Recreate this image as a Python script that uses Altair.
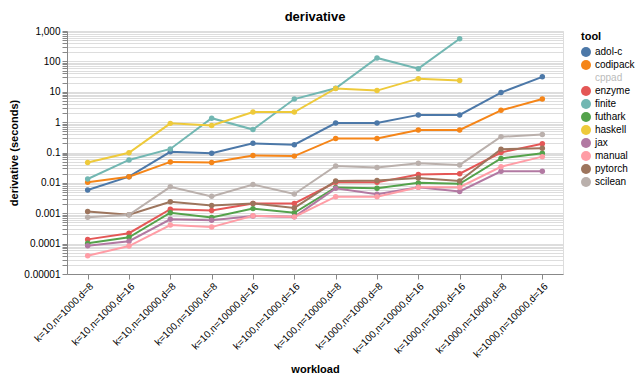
import altair as alt
import pandas as pd

workloads = [
    "k=10,n=1000,d=8", "k=10,n=1000,d=16", "k=10,n=10000,d=8", "k=100,n=1000,d=8",
    "k=10,n=10000,d=16", "k=100,n=1000,d=16", "k=100,n=10000,d=8", "k=1000,n=1000,d=8",
    "k=100,n=10000,d=16", "k=1000,n=1000,d=16", "k=1000,n=10000,d=8", "k=1000,n=10000,d=16",
]

tools = ["adol-c", "codipack", "cppad", "enzyme", "finite", "futhark",
         "haskell", "jax", "manual", "pytorch", "scilean"]
colors = ["#4c78a8", "#f58518", "transparent", "#e45756", "#72b7b2", "#54a24b",
          "#eeca3b", "#b279a2", "#ff9da6", "#9d755d", "#bab0ac"]

adol_c = [0.0058, 0.016, 0.105, 0.095, 0.2, 0.18, 0.93, 0.93, 1.73, 1.73, 9.4, 31]
codipack = [0.0104, 0.016, 0.049, 0.047, 0.08, 0.076, 0.29, 0.29, 0.55, 0.55, 2.44, 5.75]
cppad = []
enzyme = [0.000138, 0.00022, 0.00136, 0.00123, 0.0021, 0.0021, 0.0104, 0.0104, 0.019, 0.020, 0.1, 0.195]
finite = [0.0134, 0.057, 0.131, 1.35, 0.57, 5.75, 13, 130, 57.5, 555]
futhark = [0.000103, 0.000162, 0.00104, 0.00072, 0.00142, 0.00104, 0.0071, 0.0066, 0.01, 0.0093, 0.064, 0.095]
haskell = [0.047, 0.098, 0.91, 0.77, 2.15, 2.15, 12.9, 10.9, 27, 23.4]
jax = [0.000085, 0.00012, 0.00063, 0.00059, 0.00081, 0.00076, 0.0066, 0.0042, 0.0072, 0.0052, 0.024, 0.024]
manual = [0.00004, 0.000083, 0.00041, 0.00035, 0.00083, 0.00076, 0.0035, 0.0035, 0.0072, 0.0072, 0.034, 0.073]
pytorch = [0.00115, 0.00089, 0.0024, 0.0018, 0.0021, 0.0015, 0.0115, 0.012, 0.0144, 0.0115, 0.128, 0.138]
scilean = [0.00074, 0.00089, 0.0074, 0.0036, 0.0088, 0.0043, 0.036, 0.032, 0.044, 0.039, 0.33, 0.39]

series = {
    "adol-c": adol_c, "codipack": codipack, "cppad": cppad, "enzyme": enzyme,
    "finite": finite, "futhark": futhark, "haskell": haskell, "jax": jax,
    "manual": manual, "pytorch": pytorch, "scilean": scilean,
}

rows = []
for tool, vals in series.items():
    for w, v in zip(workloads, vals):
        rows.append({"tool": tool, "workload": w, "derivative": v})
df = pd.DataFrame(rows)

x = alt.X("workload:N", sort=workloads, title="workload",
          axis=alt.Axis(labelAngle=-45, grid=False))
y = alt.Y("derivative:Q", title="derivative (seconds)",
          scale=alt.Scale(type="log", domain=[0.00001, 1000]),
          axis=alt.Axis(format=",~f"))
color = alt.Color("tool:N", title="tool",
                  scale=alt.Scale(domain=tools, range=colors),
                  legend=alt.Legend(labelColor={"expr": "datum.value == 'cppad' ? '#bbbbbb' : '#000000'"},
                                    symbolType="circle", symbolSize=100, symbolStrokeWidth=0,
                                    rowPadding=3))

base = alt.Chart(df).encode(x=x, y=y, color=color)
lines = base.mark_line(strokeWidth=2)
points = base.mark_circle(size=30, opacity=1)

chart = (lines + points).properties(
    width=627, height=367, padding={"left": 0, "right": 0, "top": 3, "bottom": 0},
    autosize=alt.AutoSizeParams(type="fit", contains="padding"),
    title=alt.Title("derivative", fontSize=13, fontWeight="bold", offset=2),
)

chart.save("out.html", embed_options={"renderer": "svg", "actions": False})
